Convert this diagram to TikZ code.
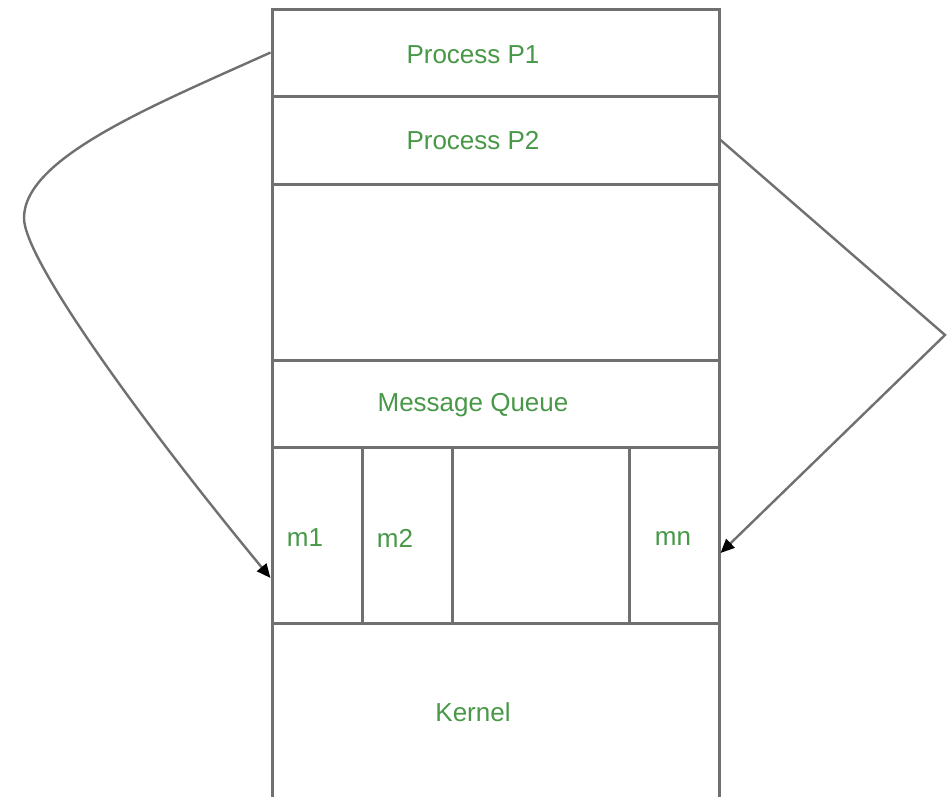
\documentclass[tikz,border=0pt]{standalone}
\usepackage{fontspec}
\setmainfont{Liberation Sans}
\usetikzlibrary{arrows.meta}
\definecolor{edge}{RGB}{112,112,112}
\definecolor{labelgreen}{RGB}{72,152,72}
\tikzset{
  cell/.style={draw=edge, line width=3pt, fill=white, rectangle, inner sep=0pt},
  lbl/.style={text=labelgreen, font=\fontsize{26}{30}\selectfont, inner sep=0pt},
  conn/.style={draw=edge, line width=2.4pt,
    -{Triangle[length=14pt,width=12pt,color=black,fill=black]}},
}
\begin{document}
\begin{tikzpicture}[x=1pt,y=-1pt]
  \fill[white] (0,0) rectangle (949,796);
  \useasboundingbox (0,0) rectangle (949,796);

  % stacked memory layout
  \node[cell, minimum width=447pt, minimum height=87pt]  (p1)     at (495.5,52.5) {};
  \node[cell, minimum width=447pt, minimum height=88pt]  (p2)     at (495.5,140) {};
  \node[cell, minimum width=447pt, minimum height=176pt] (free)   at (495.5,272) {};
  \node[cell, minimum width=447pt, minimum height=87pt]  (queue)  at (495.5,403.5) {};
  \node[cell, minimum width=90pt,  minimum height=176pt] (m1)     at (317,535) {};
  \node[cell, minimum width=90pt,  minimum height=176pt] (m2)     at (407,535) {};
  \node[cell, minimum width=177pt, minimum height=176pt] (mgap)   at (540.5,535) {};
  \node[cell, minimum width=90pt,  minimum height=176pt] (mn)     at (674,535) {};
  \node[cell, minimum width=447pt, minimum height=210pt] (kernel) at (495.5,728) {};

  % labels
  \node[lbl] (tp1) at (473,55)  {Process P1};
  \node[lbl] (tp2) at (473,141) {Process P2};
  \node[lbl] (tq)  at (473,405) {Message Queue};
  \node[lbl] (tm1) at (305,538) {m1};
  \node[lbl] (tm2) at (395,538) {m2};
  \node[lbl] (tmn) at (673,538) {mn};
  \node[lbl] (tk)  at (473,712) {Kernel};

  % message passing connectors
  \coordinate (lapex) at (24,218);
  \coordinate (rbend) at (945,335);
  \draw[conn] (p1.west) .. controls (152,106) and (24,158) .. (lapex)
                        .. controls (24,260) and (145,426) .. ([yshift=-43pt]m1.west);
  \draw[conn] (p2.east) -- (rbend) -- ([yshift=-18pt]mn.east);
\end{tikzpicture}
\end{document}
